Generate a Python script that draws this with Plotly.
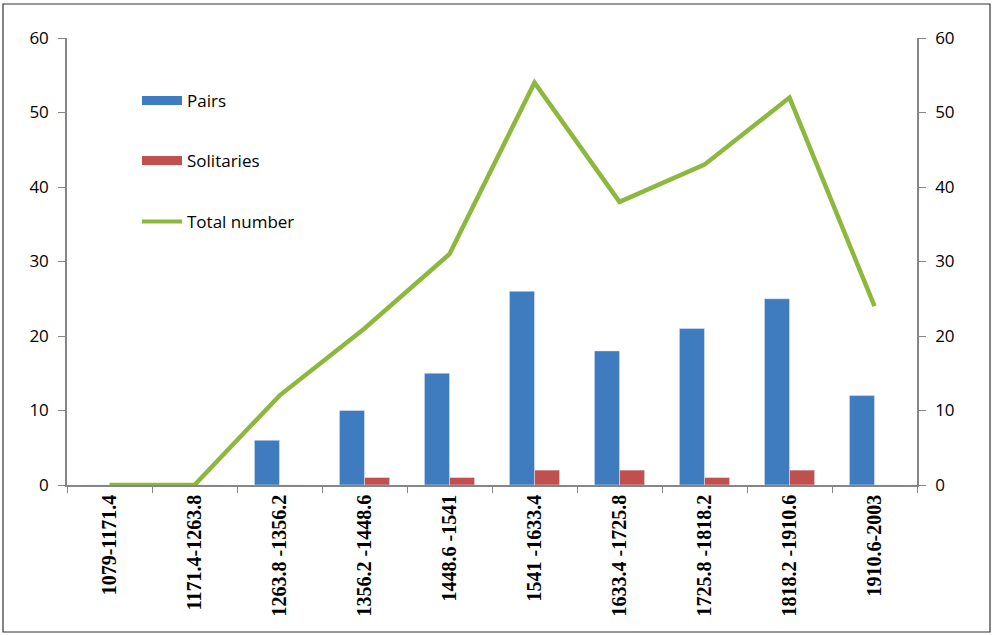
import plotly.graph_objects as go

categories = ["1079-1171.4", "1171.4-1263.8", "1263.8 -1356.2", "1356.2 -1448.6", "1448.6 -1541",
              "1541 -1633.4", "1633.4 -1725.8", "1725.8 -1818.2", "1818.2 -1910.6", "1910.6-2003"]
pairs = [0, 0, 6, 10, 15, 26, 18, 21, 25, 12]
solitaries = [0, 0, 0, 1, 1, 2, 2, 1, 2, 0]
total = [0, 0, 12, 21, 31, 54, 38, 43, 52, 24]
y_ticks = [0, 10, 20, 30, 40, 50, 60]

BLUE = "#3F7BBF"
RED = "#C0504D"
GREEN = "#8DB83E"
AX = "#868686"

fig = go.Figure()
fig.add_trace(go.Bar(x=categories, y=pairs, name="Pairs", marker=dict(color=BLUE), showlegend=False))
fig.add_trace(go.Bar(x=categories, y=solitaries, name="Solitaries", marker=dict(color=RED), showlegend=False))
fig.add_trace(go.Scatter(x=categories, y=total, name="Total number", mode="lines",
                         line=dict(color=GREEN, width=4.5), showlegend=False))
# invisible trace to show right axis
fig.add_trace(go.Scatter(x=categories, y=total, yaxis="y2", mode="lines", line=dict(width=0),
                         showlegend=False, hoverinfo="skip", opacity=0))

# legend entries
fig.add_trace(go.Scatter(x=[None], y=[None], mode="lines", name="Pairs",
                         line=dict(color=BLUE, width=9), legend="legend"))
fig.add_trace(go.Scatter(x=[None], y=[None], mode="lines", name="Solitaries",
                         line=dict(color=RED, width=9), legend="legend2"))
fig.add_trace(go.Scatter(x=[None], y=[None], mode="lines", name="Total number",
                         line=dict(color=GREEN, width=4), legend="legend3"))

L, R, T, B = 67, 75, 38, 150
W, H = 992, 635
pw, ph = W - L - R, H - T - B

def px(x):
    return (x - L) / pw

def py(y):
    return 1 - (y - T) / ph

legfont = dict(family="Open Sans, Noto Sans, sans-serif", size=17, color="#000")
common = dict(bgcolor="rgba(0,0,0,0)", font=legfont, xanchor="left", yanchor="middle", itemwidth=40)
yfont = dict(family="Open Sans, Noto Sans, sans-serif", size=17, color="#000")

fig.update_layout(
    width=W, height=H,
    margin=dict(l=L, r=R, t=T, b=B),
    paper_bgcolor="white", plot_bgcolor="white",
    barmode="group", bargap=0.41, bargroupgap=0,
    showlegend=True,
    legend=dict(x=px(137), y=py(101), **common),
    legend2=dict(x=px(137), y=py(161), **common),
    legend3=dict(x=px(137), y=py(222), **common),
    xaxis=dict(showline=True, linecolor=AX, linewidth=1.5, ticks="outside", tickson="boundaries",
               ticklen=6, tickcolor=AX, tickangle=-90, showgrid=False, zeroline=False,
               tickfont=dict(family="Liberation Serif, Times New Roman, serif", size=20, color="#000",
                             weight="bold")),
    yaxis=dict(range=[0, 60], tickvals=y_ticks, showline=True, linecolor=AX, linewidth=1.5,
               ticks="outside", ticklen=7, tickcolor=AX, showgrid=False, zeroline=False,
               tickfont=yfont, ticklabelstandoff=6),
    yaxis2=dict(range=[0, 60], tickvals=y_ticks, overlaying="y", side="right", showline=True,
                linecolor=AX, linewidth=1.5, ticks="outside", ticklen=7, tickcolor=AX,
                showgrid=False, zeroline=False, tickfont=yfont, ticklabelstandoff=6),
    shapes=[dict(type="rect", xref="paper", yref="paper", x0=px(3), x1=px(990), y0=py(632), y1=py(4),
                 line=dict(color="#333", width=1.2), fillcolor="rgba(0,0,0,0)", layer="below")],
)

fig.write_html("out.html", config={"displayModeBar": False},
               post_script="document.body.style.margin='0';document.body.style.overflow='hidden';")
